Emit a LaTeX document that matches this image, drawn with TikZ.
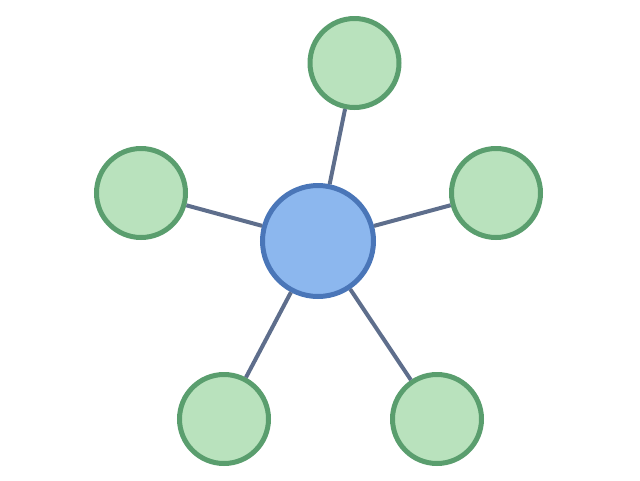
\documentclass[tikz,border=0pt]{standalone}
\begin{document}
\begin{tikzpicture}[x=1pt,y=-1pt,
  hub/.style={circle,draw=hubline,fill=hubfill,line width=5pt,minimum size=111pt,inner sep=0pt},
  leaf/.style={circle,draw=leafline,fill=leaffill,line width=5pt,minimum size=89pt,inner sep=0pt},
  link/.style={draw=linkcol,line width=4pt}]
\definecolor{hubline}{HTML}{4A76B8}
\definecolor{hubfill}{HTML}{8CB7EE}
\definecolor{leafline}{HTML}{5A9E6E}
\definecolor{leaffill}{HTML}{B9E2BD}
\definecolor{linkcol}{HTML}{5E6E8C}
\useasboundingbox (0,0) rectangle (640,480);
\node[hub] (c) at (318,241) {};
\node[leaf] (t) at (354.5,63) {};
\node[leaf] (l) at (141,193) {};
\node[leaf] (r) at (496,193) {};
\node[leaf] (bl) at (224,419) {};
\node[leaf] (br) at (437,419) {};
\foreach \n in {t,l,r,bl,br} {\path[link] (c) -- (\n);}
\end{tikzpicture}
\end{document}
